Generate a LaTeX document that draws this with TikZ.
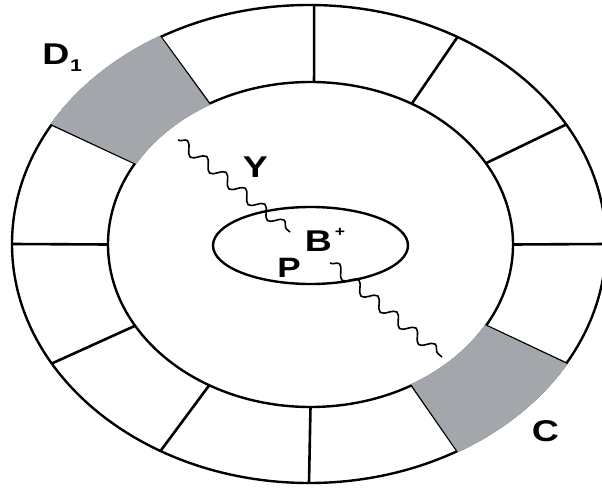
\documentclass[tikz,border=0pt]{standalone}
\usepackage{fontspec}
\setmainfont{Liberation Sans}
\usetikzlibrary{decorations.pathmorphing,calc}
\definecolor{bandgray}{rgb}{0.64,0.65,0.67}
% bold letter at a given size, widened horizontally
\newcommand{\wideletter}[2]{\scalebox{1.25}[1]{\fontsize{#1}{#1}\selectfont\bfseries #2}}

\begin{document}
\begin{tikzpicture}[x=1pt,y=1pt,
  ring/.style={line width=2.4pt},
  divider/.style={line width=2.6pt},
  band/.style={fill=bandgray},
  wave/.style={line width=1.6pt, decorate,
    decoration={snake, segment length=25pt, amplitude=5.5pt}},
  lbl/.style={inner sep=0pt}]
\useasboundingbox (0,0) rectangle (602,488);
\clip (0,0) rectangle (602,488);
\fill[white] (0,0) rectangle (602,488);

% centres of the three ellipses
\coordinate (O) at (309,244);
\coordinate (M) at (310.5,243.5);
\coordinate (I) at (310.5,242.5);

% rings
\draw[ring] (O) ellipse [x radius=297, y radius=239];
\draw[ring] (M) ellipse [x radius=202.5, y radius=162.5];
\draw[ring] (I) ellipse [x radius=97.5, y radius=38.5];

% radial dividers of the outer band
\foreach \a in {0,30,60,89,120,150,180,210,240,270,300,330}
  \draw[divider] ($(M)+(\a:202.5 and 162.5)$) -- ($(O)+(\a:297 and 239)$);

% shaded cells D1 and C
\fill[band] ($(O)+(120:298.4 and 240.4)$)
  arc[start angle=120, end angle=150, x radius=298.4, y radius=240.4]
  -- ($(M)+(150:201.1 and 161.1)$)
  arc[start angle=150, end angle=120, x radius=201.1, y radius=161.1] -- cycle;
\fill[band] ($(O)+(-60:298.4 and 240.4)$)
  arc[start angle=-60, end angle=-30, x radius=298.4, y radius=240.4]
  -- ($(M)+(-30:201.1 and 161.1)$)
  arc[start angle=-30, end angle=-60, x radius=201.1, y radius=161.1] -- cycle;

% wavy rays through the core
\coordinate (ya) at (178,348);
\coordinate (yb) at (290,256);
\coordinate (pa) at (330,225);
\coordinate (pb) at (442,131);
\draw[wave] (ya) -- (yb);
\draw[wave] (pa) -- (pb);

% labels
\node[lbl] (dlab) at (56,434) {\wideletter{30}{D}};
\node[lbl] (dsub) at (76,422) {\wideletter{17}{1}};
\node[lbl] (ylab) at (255.5,320.5) {\wideletter{30}{Y}};
\node[lbl] (blab) at (318.5,247) {\wideletter{30}{B}};
\node[lbl] (bsup) at (340,256) {\wideletter{14}{+}};
\node[lbl] (plab) at (289,220) {\wideletter{28}{P}};
\node[lbl] (clab) at (545.5,56.5) {\wideletter{30}{C}};
\end{tikzpicture}
\end{document}
